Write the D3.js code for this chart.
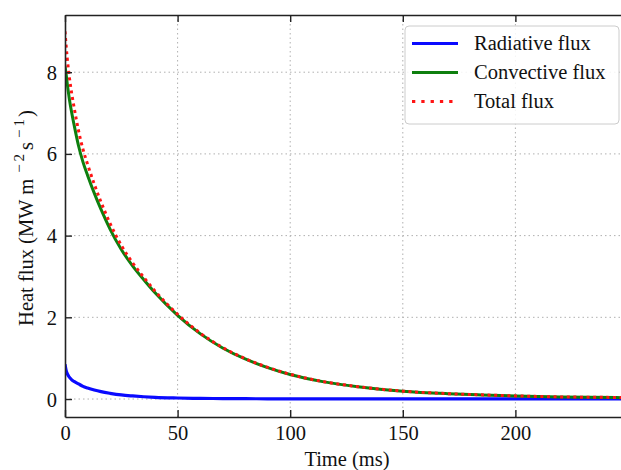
<!DOCTYPE html>
<html>
<meta charset="utf-8">
<style>
body { margin: 0; background: #fff; }
text { font-family: "Liberation Serif", "DejaVu Serif", serif; font-size: 20.5px; fill: #111; }
.grid line { stroke: #b0b0b0; stroke-width: 1; stroke-dasharray: 1.5,3; }
</style>
<body>
<svg width="621" height="470"></svg>
<script src="https://d3js.org/d3.v7.min.js"></script>
<script>

// time in ms
var time = [0, 0.5, 1, 2, 3, 4, 6, 8, 10, 13, 16, 20, 25, 30, 35, 40, 50, 60, 70, 80, 90, 100, 115, 130, 150, 170, 185, 200, 220, 245, 250];
var radiative = [0.85, 0.7, 0.62, 0.53, 0.47, 0.43, 0.37, 0.31, 0.27, 0.22, 0.18, 0.14, 0.1, 0.075, 0.055, 0.04, 0.025, 0.016, 0.011, 0.008, 0.006, 0.005, 0.004, 0.003, 0.003, 0.002, 0.002, 0.002, 0.002, 0.002, 0.002];
var convective = [8.15, 7.95, 7.72, 7.32, 7.0, 6.72, 6.2, 5.8, 5.48, 5.04, 4.64, 4.16, 3.66, 3.26, 2.92, 2.6, 2.05, 1.6, 1.25, 0.98, 0.77, 0.6, 0.42, 0.3, 0.19, 0.13, 0.1, 0.075, 0.05, 0.035, 0.03];
var total = [9.0, 8.65, 8.34, 7.85, 7.47, 7.15, 6.57, 6.11, 5.75, 5.26, 4.82, 4.3, 3.76, 3.335, 2.975, 2.64, 2.075, 1.616, 1.261, 0.988, 0.776, 0.605, 0.424, 0.303, 0.193, 0.132, 0.102, 0.077, 0.052, 0.037, 0.032];

var xTicks = [0, 50, 100, 150, 200];
var yTicks = [0, 2, 4, 6, 8];

var series = [
  {name: "Radiative flux", values: radiative, color: "#0a0aff", dash: null, width: 3.2},
  {name: "Convective flux", values: convective, color: "#0e7f0e", dash: null, width: 3},
  {name: "Total flux", values: total, color: "#ff1414", dash: "3,3.6", width: 3}
];

var svg = d3.select("svg"),
    mLeft = 65, mRight = 628, mTop = 15, mBottom = 417;

var x = d3.scaleLinear().domain([0, 250]).range([mLeft, mRight]);
var y = d3.scaleLinear().domain([-0.44, 9.4]).range([mBottom, mTop]);

svg.append("defs").append("clipPath").attr("id", "clip")
  .append("rect").attr("x", mLeft).attr("y", mTop)
  .attr("width", mRight - mLeft).attr("height", mBottom - mTop);

// grid
var grid = svg.append("g").attr("class", "grid");
grid.selectAll(".gx").data(xTicks.slice(1)).enter().append("line")
    .attr("x1", function(d) { return x(d); }).attr("x2", function(d) { return x(d); })
    .attr("y1", mTop).attr("y2", mBottom);
grid.selectAll(".gy").data(yTicks).enter().append("line")
    .attr("x1", mLeft).attr("x2", mRight)
    .attr("y1", function(d) { return y(d); }).attr("y2", function(d) { return y(d); });

// curves
var line = d3.line()
    .x(function(d, i) { return x(time[i]); })
    .y(function(d) { return y(d); })
    .curve(d3.curveMonotoneX);

svg.append("g").attr("clip-path", "url(#clip)")
  .selectAll("path").data(series).enter().append("path")
    .attr("d", function(d) { return line(d.values); })
    .attr("fill", "none")
    .attr("stroke", function(d) { return d.color; })
    .attr("stroke-width", function(d) { return d.width; })
    .attr("stroke-dasharray", function(d) { return d.dash; });

// axes with inward ticks
var xAxis = svg.append("g").attr("transform", "translate(0," + mBottom + ")")
    .call(d3.axisBottom(x).tickValues(xTicks).tickSizeInner(-7).tickSizeOuter(0).tickPadding(8));
var xTop = svg.append("g").attr("transform", "translate(0," + mTop + ")")
    .call(d3.axisTop(x).tickValues(xTicks).tickSizeInner(-7).tickSizeOuter(0).tickFormat(""));
var yAxis = svg.append("g").attr("transform", "translate(" + mLeft + ",0)")
    .call(d3.axisLeft(y).tickValues(yTicks).tickSizeInner(-7).tickSizeOuter(0).tickPadding(8));

[xAxis, xTop, yAxis].forEach(function(a) {
  a.selectAll(".domain").attr("stroke", "#222").attr("stroke-width", 1.6);
  a.selectAll(".tick line").attr("stroke", "#222").attr("stroke-width", 1.4);
  a.selectAll("text").attr("font-size", 20.5).attr("font-family", "Liberation Serif, serif").attr("fill", "#111");
});
yAxis.selectAll("text").attr("dy", "0.34em");

// axis labels
svg.append("text").attr("x", 347).attr("y", 466).attr("text-anchor", "middle").text("Time (ms)");

var yl = svg.append("text")
    .attr("transform", "translate(33,218) rotate(-90)")
    .attr("text-anchor", "middle");
yl.append("tspan").text("Heat flux (MW m");
yl.append("tspan").attr("dx", 6).attr("dy", -9).attr("font-size", 15).text("\u2212");
yl.append("tspan").attr("dx", 3).attr("font-size", 15).text("2");
yl.append("tspan").attr("dx", 4).attr("dy", 9).text("s");
yl.append("tspan").attr("dx", 4).attr("dy", -9).attr("font-size", 15).text("\u2212");
yl.append("tspan").attr("dx", 3).attr("font-size", 15).text("1");
yl.append("tspan").attr("dx", 2).attr("dy", 9).text(")");

// legend
var lg = svg.append("g");
lg.append("rect").attr("x", 405).attr("y", 26).attr("width", 214).attr("height", 98)
    .attr("rx", 4).attr("fill", "#fff").attr("fill-opacity", 0.85)
    .attr("stroke", "#cccccc").attr("stroke-width", 1);
var item = lg.selectAll(".item").data(series).enter().append("g")
    .attr("transform", function(d, i) { return "translate(0," + (43.5 + i * 29) + ")"; });
item.append("line").attr("x1", 412).attr("x2", 458).attr("y1", 0).attr("y2", 0)
    .attr("stroke", function(d) { return d.color; })
    .attr("stroke-width", 3)
    .attr("stroke-dasharray", function(d) { return d.dash ? "3.3,6" : null; });
item.append("text").attr("x", 474).attr("dy", "0.33em").text(function(d) { return d.name; });

</script>
</body>
</html>
